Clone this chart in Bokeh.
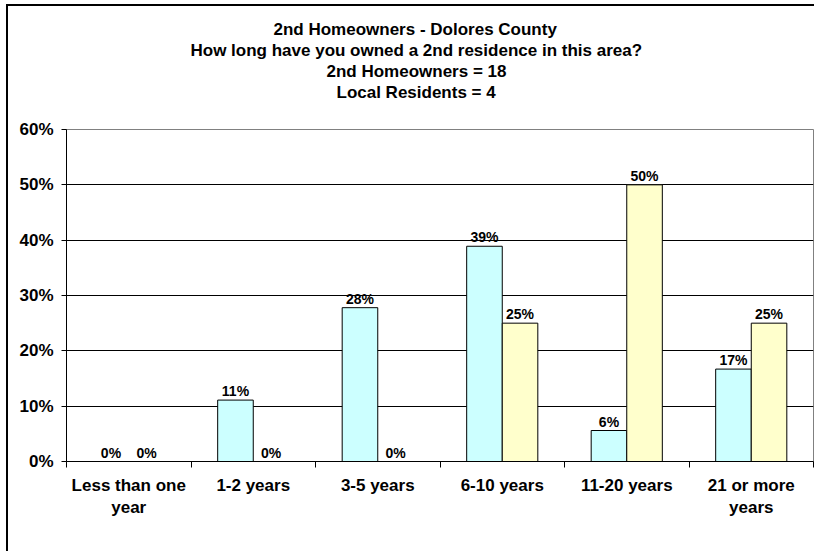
from bokeh.plotting import figure
from bokeh.models import Range1d, FixedTicker, PrintfTickFormatter, Title, ColumnDataSource
from bokeh.core.properties import value
from bokeh.embed import file_html
from bokeh.resources import INLINE

categories = ["Less than one\nyear", "1-2 years", "3-5 years", "6-10 years", "11-20 years", "21 or more\nyears"]
homeowners = [0, 11.1, 27.8, 38.9, 5.6, 16.7]
local_residents = [0, 0, 0, 25, 50, 25]
y_ticks = [0, 10, 20, 30, 40, 50, 60]
title_lines = ["2nd Homeowners - Dolores County",
               "How long have you owned a 2nd residence in this area?",
               "2nd Homeowners = 18",
               "Local Residents = 4"]
# horizontal offset (px from plot-area left) of each title line, so the lines are centred on the chart
title_offsets = [207, 124, 260, 270]

FONT = "Liberation Sans"
BAR_W = 1.0 / 3.5
n = len(categories)
centers = [i + 0.5 for i in range(n)]

src = ColumnDataSource(dict(
    xh=[c - BAR_W / 2 for c in centers],
    xl=[c + BAR_W / 2 for c in centers],
    h=homeowners,
    l=local_residents,
    th=[f"{round(v)}%" for v in homeowners],
    tl=[f"{round(v)}%" for v in local_residents],
))

p = figure(width=808, height=547, output_backend="svg", toolbar_location=None,
           x_range=Range1d(0, n), y_range=Range1d(0, 60),
           min_border_left=58, min_border_top=123, min_border_right=3, min_border_bottom=92)
p.styles = {"margin-left": "6px", "margin-top": "4px",
            "border-left": "2px solid black", "border-top": "2px solid black"}

p.title = None
# spacer between the title block and the plot area
p.add_layout(Title(text=" ", text_font_size="1px", standoff=25), "above")
# then the title lines, nearest the plot first
for line, off in reversed(list(zip(title_lines, title_offsets))):
    t = Title(text=line, align="left", offset=off, text_font=FONT, text_font_size="17px",
              text_font_style="bold", text_color="black", text_line_height=1.0, standoff=0)
    p.add_layout(t, "above")

p.vbar(x="xh", top="h", width=BAR_W, source=src, fill_color="#CCFFFF", line_color="black", line_width=1)
p.vbar(x="xl", top="l", width=BAR_W, source=src, fill_color="#FFFFCC", line_color="black", line_width=1)

for xcol, ycol, tcol in (("xh", "h", "th"), ("xl", "l", "tl")):
    p.text(x=xcol, y=ycol, text=tcol, source=src, text_align="center", text_baseline="alphabetic",
           y_offset=-9, text_font=value(FONT), text_font_size="14px", text_font_style="bold",
           text_color="black")

# x axis
xa = p.xaxis[0]
xa.ticker = FixedTicker(ticks=centers, minor_ticks=list(range(n + 1)))
xa.major_label_overrides = {c: lab for c, lab in zip(centers, categories)}
xa.major_tick_line_color = None
xa.minor_tick_out = 6
xa.minor_tick_in = 0
xa.minor_tick_line_color = "black"
xa.axis_line_color = "black"
xa.major_label_standoff = 8
xa.major_label_text_font = FONT
xa.major_label_text_font_size = "17px"
xa.major_label_text_font_style = "bold"
xa.major_label_text_color = "black"

ya = p.yaxis[0]
ya.ticker = FixedTicker(ticks=y_ticks)
ya.formatter = PrintfTickFormatter(format="%d%%")
ya.major_tick_out = 5
ya.major_tick_in = 0
ya.minor_tick_line_color = None
ya.major_tick_line_color = "black"
ya.axis_line_color = "black"
ya.major_label_standoff = 8
ya.major_label_text_font = FONT
ya.major_label_text_font_size = "17px"
ya.major_label_text_font_style = "bold"
ya.major_label_text_color = "black"

p.xgrid.grid_line_color = None
p.ygrid.grid_line_color = "black"
p.ygrid.grid_line_width = 1
p.ygrid.ticker = FixedTicker(ticks=y_ticks)
p.outline_line_color = "#808080"
p.outline_line_width = 1
p.background_fill_color = "white"
p.border_fill_color = "white"

open("out.html", "w").write(file_html(p, INLINE))
